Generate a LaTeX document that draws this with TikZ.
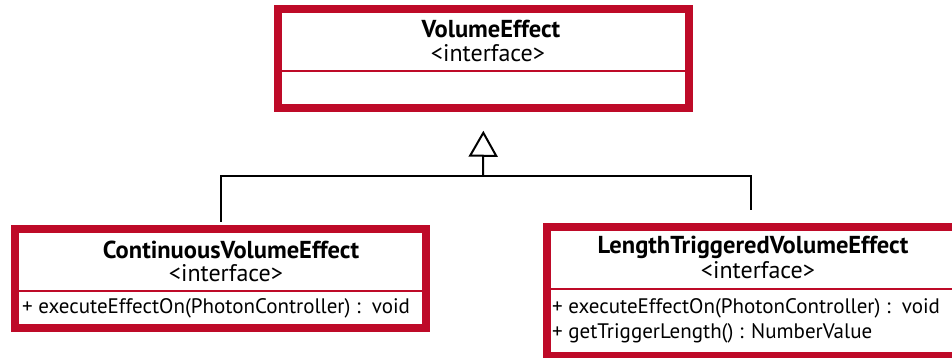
\documentclass[tikz,border=0pt]{standalone}
\usepackage{fontspec}
\setmainfont{PT Sans}
\usetikzlibrary{arrows.meta}
\definecolor{umlred}{RGB}{190,10,40}
\tikzset{
  classbox/.style={draw=umlred, line width=7.5pt, fill=white, inner sep=0pt},
  divider/.style={draw=umlred, line width=2.2pt},
  classname/.style={font=\fontsize{24.5}{28}\selectfont\bfseries, inner sep=0pt},
  stereo/.style={font=\fontsize{24}{28}\selectfont, inner sep=0pt},
  member/.style={font=\fontsize{21}{25}\selectfont, anchor=west, inner sep=0pt},
  link/.style={line width=2pt},
}

\begin{document}
\begin{tikzpicture}[x=1pt,y=-1pt]
\useasboundingbox (0,0) rectangle (952,358);

\node[classbox, minimum width=411pt, minimum height=99pt] (effect) at (483.5,58.5) {};
\node[classbox, minimum width=411pt, minimum height=99pt] (continuous) at (220.5,278.5) {};
\node[classbox, minimum width=409pt, minimum height=129pt] (lengthtrig) at (751.5,291.5) {};

\draw[divider] (effect.west |- 0,71) -- (effect.east |- 0,71);
\draw[divider] (continuous.west |- 0,291) -- (continuous.east |- 0,291);
\draw[divider] (lengthtrig.west |- 0,289) -- (lengthtrig.east |- 0,289);

\node[classname] (effect-name) at (491,29) {VolumeEffect};
\node[stereo] (effect-type) at (488,53) {<interface>};

\node[classname] (continuous-name) at (231,250) {ContinuousVolumeEffect};
\node[stereo] (continuous-type) at (226,273) {<interface>};
\node[member] (continuous-m1) at (22,308) {+ executeEffectOn(PhotonController) :\ \ void};

\node[classname] (lengthtrig-name) at (753,247) {LengthTriggeredVolumeEffect};
\node[stereo] (lengthtrig-type) at (758,270) {<interface>};
\node[member] (lengthtrig-m1) at (552,308) {+ executeEffectOn(PhotonController) :\ \ void};
\node[member] (lengthtrig-m2) at (552,333) {+ getTriggerLength() : NumberValue};

\coordinate (join) at (483,176);
\coordinate (lengthtrig-end) at (751,210);
\draw[link, shorten <=3.75pt] (continuous.north) |- (join) -| (lengthtrig-end);
\draw[link, -{Triangle[open, length=26pt, width=29pt]}, shorten >=19pt] (join) -- (effect.south);
\end{tikzpicture}
\end{document}
